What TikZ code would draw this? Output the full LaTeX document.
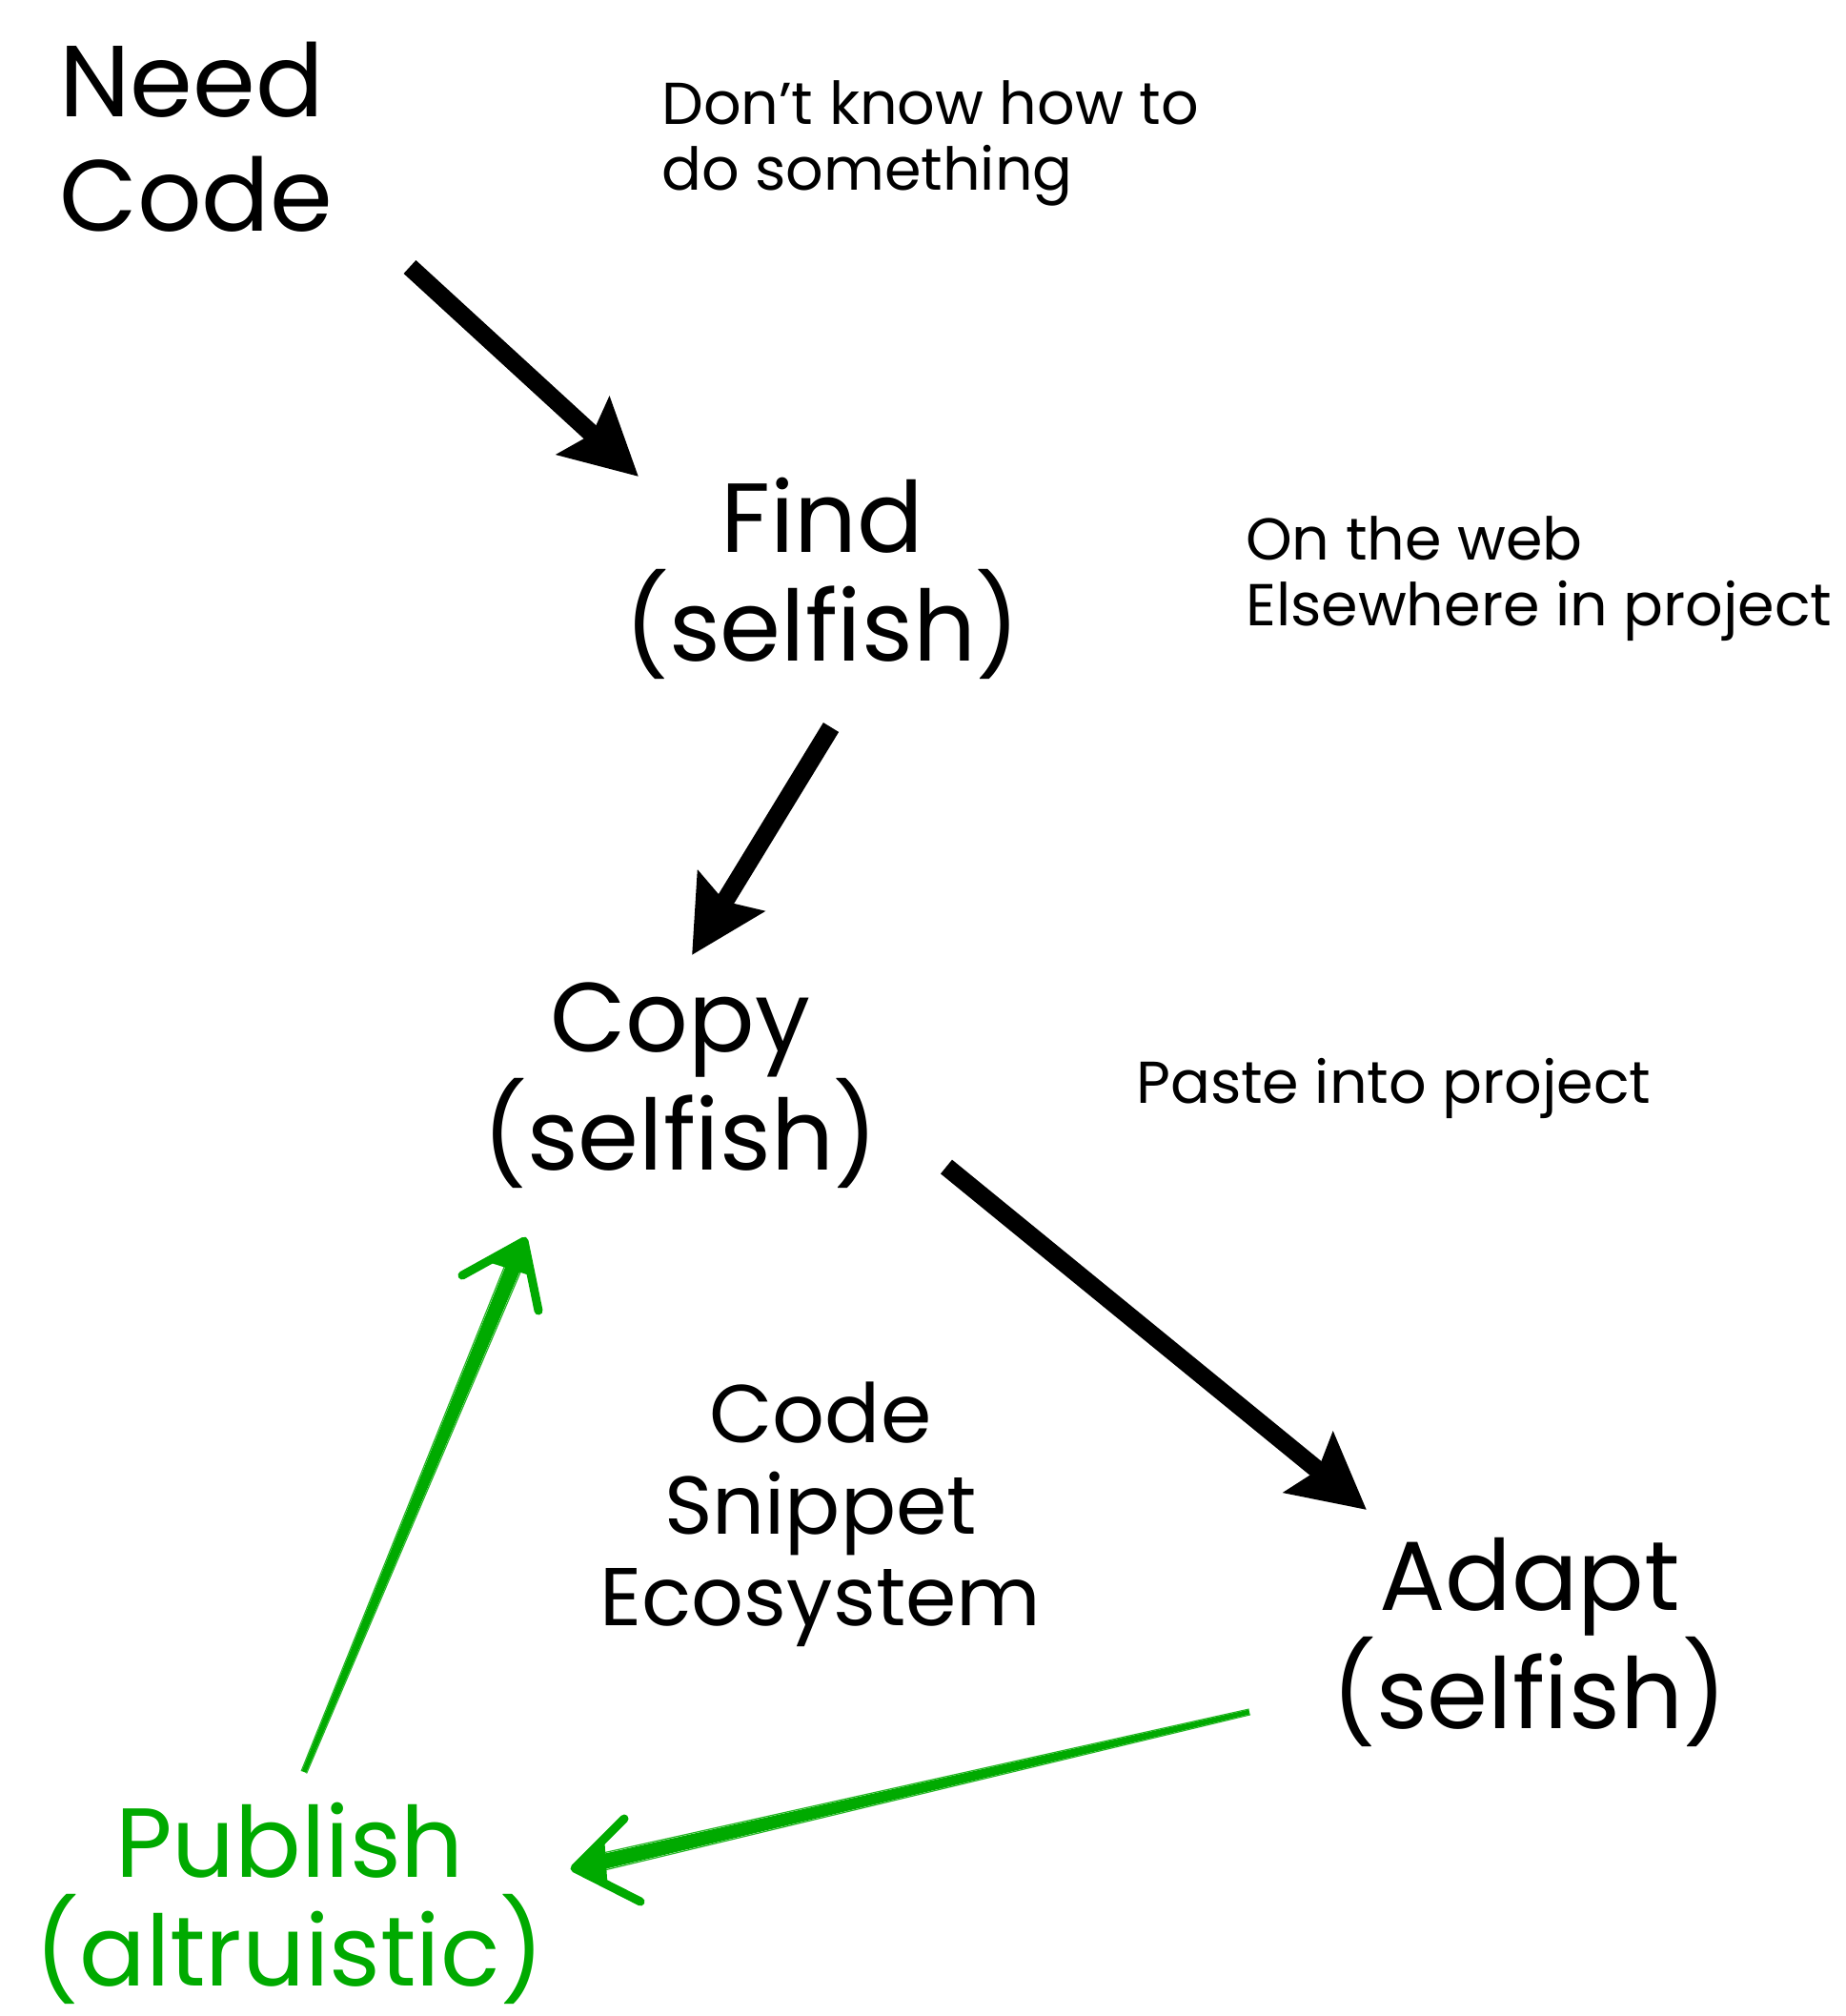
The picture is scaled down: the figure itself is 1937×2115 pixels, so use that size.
\documentclass[tikz,border=0pt]{standalone}
\usepackage{fontspec}
\setmainfont{Poppins}
\usetikzlibrary{arrows.meta,calc}
\definecolor{pubgreen}{RGB}{0,170,0}
\begin{document}
\begin{tikzpicture}[x=1pt,y=-1pt,
  bigtxt/.style={font=\fontsize{103}{114}\selectfont, align=center, inner sep=0pt},
  medtxt/.style={font=\fontsize{86}{96}\selectfont, align=center, inner sep=0pt},
  smalltxt/.style={font=\fontsize{62}{69}\selectfont, align=left, inner sep=0pt},
  thickarrow/.style={line width=19pt, -{Stealth[length=78pt,width=80pt,inset=12pt]}},
  greenhead/.style={pubgreen, line width=9pt, line cap=round, line join=round},
  greenrough/.style={pubgreen!85!white, line width=1.2pt, line cap=round}
]
\useasboundingbox (0,0) rectangle (1937,2115);
% texts (anchor = baseline of the last line)
\node[bigtxt, font=\fontsize{106}{120}\selectfont, align=left, anchor=base west] (need) at (62,242) {Need\\Code};
\node[smalltxt, anchor=base west] (dont) at (694,199) {Don’t know how to\\do something};
\node[bigtxt, anchor=base] (find) at (863,693) {Find\\(selfish)};
\node[smalltxt, anchor=base west] (web) at (1307,656) {On the web\\Elsewhere in project};
\node[bigtxt, anchor=base] (copy) at (714,1227) {Copy\\(selfish)};
\node[smalltxt, anchor=base west] (paste) at (1192,1157) {Paste into project};
\node[medtxt, anchor=base] (eco) at (861,1705) {Code\\Snippet\\Ecosystem};
\node[bigtxt, anchor=base] (adapt) at (1605,1813) {Adapt\\(selfish)};
\node[bigtxt, anchor=base, text=pubgreen] (pub) at (304,2083) {Publish\\(altruistic)};
% black arrows
\coordinate (a1s) at (430,280);  \coordinate (a1e) at (670,500);
\coordinate (a2s) at (872,763);  \coordinate (a2e) at (726,1002);
\coordinate (a3s) at (993,1224); \coordinate (a3e) at (1434,1584);
\draw[thickarrow] (a1s) -- (a1e);
\draw[thickarrow] (a2s) -- (a2e);
\draw[thickarrow] (a3s) -- (a3e);
% green arrow: Adapt -> Publish
\coordinate (gAt) at (1311,1796); \coordinate (gAh) at (603,1960);
\coordinate (gAq) at ($(gAt)!0.96!(gAh)$);
\fill[pubgreen] ($(gAt)!2.5pt!90:(gAq)$) -- ($(gAq)!8pt!-90:(gAt)$) -- ($(gAq)!8pt!90:(gAt)$) -- ($(gAt)!2.5pt!-90:(gAq)$) -- cycle;
\draw[greenrough] ($(gAt)!3pt!90:(gAq)$) -- ($(gAq)!9pt!-90:(gAt)$);
\draw[greenrough] ($(gAt)!3pt!-90:(gAq)$) -- ($(gAq)!9pt!90:(gAt)$);
\coordinate (gAu) at (655,1908); \coordinate (gAl) at (672,1995);
\fill[pubgreen] (gAh) -- ($(gAh)!0.6!(gAu)$) -- ($(gAh)!0.5!(gAl)$) -- cycle;
\draw[greenhead] (gAu) -- (gAh) -- (gAl);
% green arrow: Publish -> Copy
\coordinate (gBt) at (319,1859); \coordinate (gBh) at (550,1302);
\coordinate (gBq) at ($(gBt)!0.96!(gBh)$);
\fill[pubgreen] ($(gBt)!2.5pt!90:(gBq)$) -- ($(gBq)!8pt!-90:(gBt)$) -- ($(gBq)!8pt!90:(gBt)$) -- ($(gBt)!2.5pt!-90:(gBq)$) -- cycle;
\draw[greenrough] ($(gBt)!3pt!90:(gBq)$) -- ($(gBq)!9pt!-90:(gBt)$);
\draw[greenrough] ($(gBt)!3pt!-90:(gBq)$) -- ($(gBq)!9pt!90:(gBt)$);
\coordinate (gBu) at (485,1338); \coordinate (gBl) at (565,1375);
\fill[pubgreen] (gBh) -- ($(gBh)!0.6!(gBu)$) -- ($(gBh)!0.5!(gBl)$) -- cycle;
\draw[greenhead] (gBu) -- (gBh) -- (gBl);
\end{tikzpicture}
\end{document}
